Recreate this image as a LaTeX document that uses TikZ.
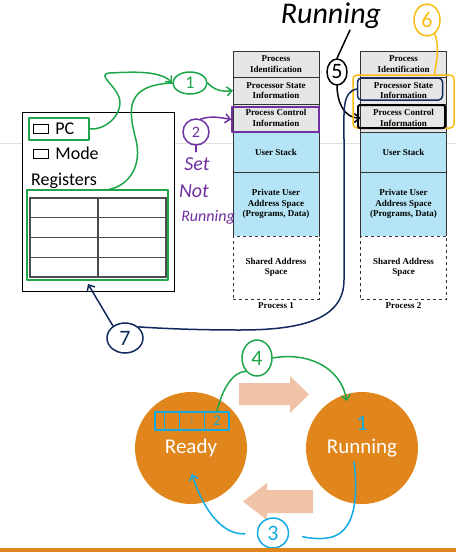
\documentclass[tikz,border=0pt]{standalone}
\usepackage{fontspec}
\setmainfont{Liberation Serif}
\newfontfamily\calibri{Carlito}
\usetikzlibrary{arrows.meta,positioning,calc,shapes.geometric}
\definecolor{pcbgray}{HTML}{E6E6E6}
\definecolor{pcbblue}{HTML}{B4E4F5}
\definecolor{stateorange}{HTML}{E0861C}
\definecolor{palearrow}{HTML}{F0C3A8}
\definecolor{inkgreen}{HTML}{1FA64A}
\definecolor{inkpurple}{HTML}{7030A0}
\definecolor{inknavy}{HTML}{12295D}
\definecolor{inkcyan}{HTML}{12AAE2}
\definecolor{inkyellow}{HTML}{FCBC10}

\begin{document}
\begin{tikzpicture}[x=1pt,y=-1pt]
	\useasboundingbox (0,0) rectangle (456,552);
	\tikzstyle{Row}=[draw=black!80,outer sep=0pt,inner sep=0pt,minimum width=86pt,align=center,font=\fontsize{9}{10.5}\selectfont\bfseries]
	\tikzstyle{Ink}=[line width=1.5pt,line cap=round,line join=round]
	\tikzstyle{Mark}=[ellipse,Ink,draw,inner sep=0pt,font=\calibri\fontsize{18}{18}\selectfont]
	\tikzstyle{Hand}=[inner sep=0pt,font=\calibri\itshape\fontsize{20}{20}\selectfont]
	\tikzstyle{State}=[circle,fill=stateorange,minimum size=112pt,text=white,font=\calibri\fontsize{21}{21}\selectfont]
	\tikzstyle{Tip}=[-{Straight Barb[length=5pt,width=9pt]}]

	\draw[black!12] (0,143) -- (456,143);

	\node[Row,fill=pcbgray,minimum height=26pt] (pa-id) at (276,64) {Process\\Identification};
	\node[Row,fill=pcbgray,minimum height=27pt,below=0pt of pa-id] (pa-psi) {Processor State\\Information};
	\node[Row,fill=pcbgray,minimum height=28pt,below=0pt of pa-psi] (pa-pci) {Process Control\\Information};
	\node[Row,fill=pcbblue,minimum height=40pt,below=0pt of pa-pci] (pa-us) {User Stack};
	\node[Row,fill=pcbblue,minimum height=64pt,below=0pt of pa-us] (pa-pua) {Private User\\Address Space\\(Programs, Data)};
	\node[Row,dashed,fill=white,minimum height=63pt,below=0pt of pa-pua] (pa-sas) {Shared Address\\Space};
	\node[below=2pt of pa-sas,inner sep=1pt,font=\fontsize{9}{10.5}\selectfont\bfseries] (pa-name) {Process 1};

	\node[Row,fill=pcbgray,minimum height=26pt] (pb-id) at (403.5,64) {Process\\Identification};
	\node[Row,fill=pcbgray,minimum height=27pt,below=0pt of pb-id] (pb-psi) {Processor State\\Information};
	\node[Row,fill=pcbgray,minimum height=28pt,below=0pt of pb-psi] (pb-pci) {Process Control\\Information};
	\node[Row,fill=pcbblue,minimum height=40pt,below=0pt of pb-pci] (pb-us) {User Stack};
	\node[Row,fill=pcbblue,minimum height=64pt,below=0pt of pb-us] (pb-pua) {Private User\\Address Space\\(Programs, Data)};
	\node[Row,dashed,fill=white,minimum height=63pt,below=0pt of pb-pua] (pb-sas) {Shared Address\\Space};
	\node[below=2pt of pb-sas,inner sep=1pt,font=\fontsize{9}{10.5}\selectfont\bfseries] (pb-name) {Process 2};

	\node[draw,fill=white,outer sep=0pt,minimum width=152pt,minimum height=179pt] (cpu) at (98,201.5) {};
	\node[draw,inner sep=0pt,minimum width=15pt,minimum height=9pt] (pc-chk) at (40.5,128.5) {};
	\node[right=7pt of pc-chk,inner sep=0pt,font=\calibri\fontsize{18}{18}\selectfont] (pc) {PC};
	\node[draw,inner sep=0pt,minimum width=15pt,minimum height=9pt] (mode-chk) at (40.5,153.5) {};
	\node[right=7pt of mode-chk,inner sep=0pt,font=\calibri\fontsize{18}{18}\selectfont] (mode) {Mode};
	\node[anchor=base west,inner sep=0pt,font=\calibri\fontsize{18}{18}\selectfont] (regs-label) at (31,185) {Registers};
	\node[draw=black!70,line width=1.2pt,inner sep=0pt,minimum width=136pt,minimum height=79pt] (regs) at (98,237.5) {};
	\draw[black!70,line width=1.2pt] (regs.north) -- (regs.south);
	\foreach \f in {0.25,0.5,0.75}
		\draw[black!70,line width=1.2pt] ($(regs.north west)!\f!(regs.south west)$) -- ($(regs.north east)!\f!(regs.south east)$);

	\node[draw=inkgreen,Ink,minimum width=60pt,minimum height=22pt] (pc-ring) at (59,129) {};
	\node[draw=inkgreen,Ink,minimum width=141pt,minimum height=90pt] (regs-ring) at (97.5,235) {};
	\node[Mark,draw=inkgreen,text=inkgreen,minimum width=34pt,minimum height=22pt] (n1) at (190,83) {1};
	\draw[Ink,inkgreen,Tip] (pc-ring.east) .. controls (108,130) and (124,112) .. (119,97) .. controls (114,84) and (96,74) .. (110,73) .. controls (130,72) and (160,70) .. (n1.west);
	\draw[Ink,inkgreen] ($(regs-ring.north)+(12,0)$) .. controls (130,185) and (142,165) .. (136,140) .. controls (128,110) and (125,85) .. (n1.west);
	\draw[Ink,inkgreen,Tip] (n1.east) .. controls (214,90) and (222,92) .. (pa-psi.west);

	\node[draw=inkpurple,Ink,minimum width=87pt,minimum height=25pt] (pa-ring) at (275.5,119.5) {};
	\node[Mark,draw=inkpurple,text=inkpurple,minimum size=26pt,font=\calibri\fontsize{16}{16}\selectfont] (n2) at (196,132) {2};
	\draw[Ink,inkpurple,Tip] (n2.70) .. controls (210,116) and (218,117) .. (pa-ring.west);
	\draw[Ink,inkpurple] (n2.south) -- ++(0,6);
	\node[Hand,text=inkpurple] (set) at (197,164) {Set};
	\node[Hand,text=inkpurple] (not) at (194,191) {Not};
	\node[Hand,text=inkpurple,font=\calibri\itshape\fontsize{16}{16}\selectfont] (running-p) at (208,217) {Running};

	\node[Hand,anchor=base,font=\calibri\itshape\fontsize{30}{30}\selectfont] (running-hand) at (331,23) {Running};
	\node[Mark,minimum width=20pt,minimum height=26pt,font=\calibri\fontsize{22}{22}\selectfont] (n5) at (337,72) {5};
	\coordinate (run-tail) at (350,30);
	\draw[Ink] (run-tail) -- (n5.north);
	\draw[Ink,Tip] (n5.south) .. controls (337,100) and (343,118) .. (pb-pci.west);

	\node[draw=inkyellow,Ink,rounded corners=4pt,minimum width=101pt,minimum height=53pt] (pb-yring) at (403.5,101.5) {};
	\node[draw=inknavy,Ink,rounded corners=4pt,minimum width=85pt,minimum height=22pt] (pb-nring) at (400,89) {};
	\node[draw=black,line width=2pt,rounded corners=2pt,minimum width=87pt,minimum height=23pt] (pb-bring) at (401.5,116.5) {};
	\node[Mark,draw=inkyellow,text=inkyellow,minimum width=26pt,minimum height=32pt,font=\calibri\fontsize{22}{22}\selectfont] (n6) at (427,20) {6};
	\draw[Ink,inkyellow] (n6.-60) .. controls (440,50) and (436,62) .. ($(pb-yring.north)+(31,0)$);

	\node[Mark,draw=inknavy,text=inknavy,minimum width=36pt,minimum height=30pt,font=\calibri\fontsize{22}{22}\selectfont] (n7) at (125,338) {7};
	\draw[Ink,inknavy] (pb-nring.west) .. controls (342,92) and (344,110) .. (344,140) -- (344,280) .. controls (344,320) and (300,330) .. (240,330) .. controls (190,330) and (155,328) .. (n7.north east);
	\coordinate (reg-in) at (88,284);
	\draw[Ink,inknavy,Tip] (n7.135) -- (reg-in);

	\fill[palearrow] (239,383) -- (290,383) -- (290,376) -- (309,394.5) -- (290,413) -- (290,405) -- (239,405) -- cycle;
	\fill[palearrow] (313,490) -- (267,490) -- (267,483) -- (243,501.5) -- (267,520) -- (267,513) -- (313,513) -- cycle;

	\node[State] (ready) at (191,448) {Ready};
	\node[State] (running) at (362,448) {Running};

	\node[draw=inkcyan,Ink,inner sep=0pt,minimum width=74pt,minimum height=18pt] (queue) at (192,421) {};
	\foreach \qx in {10,25,50}
		\draw[Ink,inkcyan] ($(queue.north west)+(\qx,0)$) -- ($(queue.south west)+(\qx,0)$);
	\node[inner sep=0pt,text=inkcyan,font=\calibri\fontsize{12}{12}\selectfont] (q-dots) at (192,421) {:};
	\node[Hand,text=inkcyan,font=\calibri\fontsize{15}{15}\selectfont] (q-two) at (217,421) {2};
	\node[Hand,text=inkcyan,font=\calibri\fontsize{22}{22}\selectfont] (run-one) at (362,423) {1};

	\node[Mark,draw=inkgreen,text=inkgreen,minimum width=30pt,minimum height=36pt,font=\calibri\fontsize{22}{22}\selectfont] (n4) at (257,358) {4};
	\coordinate (q-out) at ($(queue.north)+(25,0)$);
	\draw[Ink,inkgreen] (q-out) .. controls (222,390) and (232,372) .. (n4.south west);
	\draw[Ink,inkgreen,Tip,shorten >=-7pt] (n4.east) .. controls (305,352) and (340,365) .. (running.107);

	\node[Mark,draw=inkcyan,text=inkcyan,minimum width=31pt,minimum height=30pt,font=\calibri\fontsize{22}{22}\selectfont] (n3) at (273,533) {3};
	\coordinate (run-out) at (354,462);
	\coordinate (ready-in) at (192,474);
	\draw[Ink,inkcyan,shorten >=14pt] (run-out) .. controls (358,495) and (356,530) .. (332,537) .. controls (318,541) and (300,536) .. (n3.east);
	\draw[Ink,inkcyan,Tip,shorten <=12pt] (n3.west) .. controls (225,535) and (205,515) .. (ready-in);

	\fill[stateorange] (0,548) rectangle (456,552);
\end{tikzpicture}
\end{document}
